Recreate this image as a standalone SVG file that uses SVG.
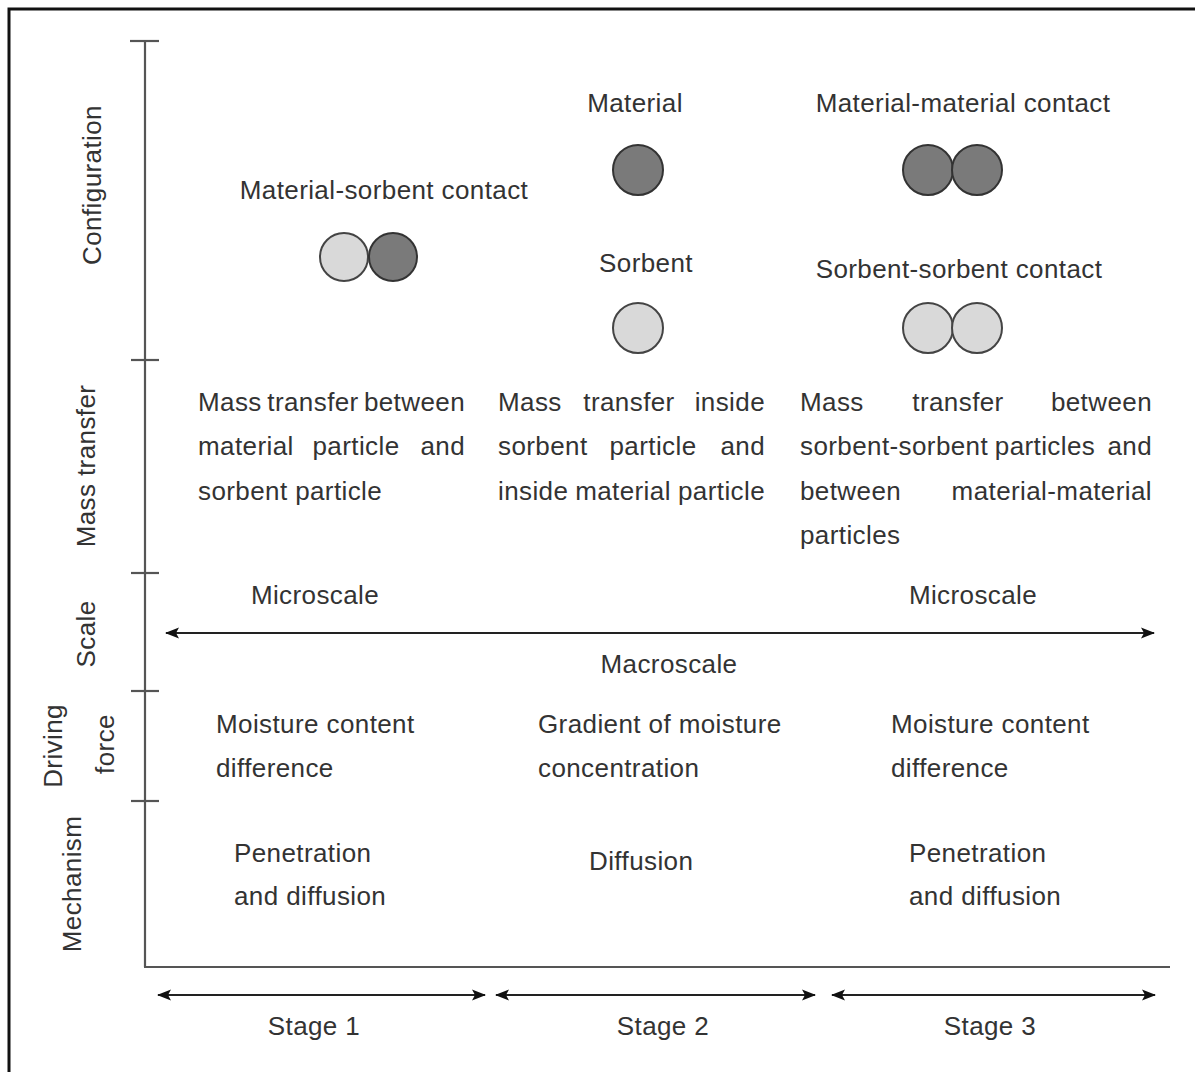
<svg xmlns="http://www.w3.org/2000/svg" width="1195" height="1072" viewBox="0 0 1195 1072">
<style>
text{font-family:"Liberation Sans",Arial,sans-serif;font-size:26px;fill:#333;letter-spacing:0.4px}
.m{text-anchor:middle}
.e{text-anchor:end}
.ax{stroke:#555;stroke-width:2.2;fill:none}
.ar{stroke:#222;stroke-width:2;fill:none;marker-start:url(#ah);marker-end:url(#ah)}
.lt{fill:#d9d9d9;stroke:#444;stroke-width:2}
.dk{fill:#7a7a7a;stroke:#333;stroke-width:2}
</style>
<defs>
<marker id="ah" viewBox="0 0 14 12" refX="13" refY="6" markerWidth="14" markerHeight="12" markerUnits="userSpaceOnUse" orient="auto-start-reverse">
<path d="M0,0.5 L14,6 L0,11.5 L3,6 Z" fill="#111"/>
</marker>
</defs>
<rect width="1195" height="1072" fill="#fff"/>
<rect x="9" y="9" width="1200" height="1100" fill="none" stroke="#111" stroke-width="3"/>
<g id="axes">
<line class="ax" x1="145" y1="41" x2="145" y2="967"/>
<line class="ax" x1="144" y1="967" x2="1170" y2="967"/>
<line class="ax" x1="130" y1="41" x2="159" y2="41"/>
<line class="ax" x1="131" y1="360" x2="159" y2="360"/>
<line class="ax" x1="131" y1="573" x2="159" y2="573"/>
<line class="ax" x1="131" y1="691" x2="159" y2="691"/>
<line class="ax" x1="131" y1="801" x2="159" y2="801"/>
</g>
<g id="row-labels">
<text class="m" transform="translate(101,185) rotate(-90)">Configuration</text>
<text class="m" transform="translate(95,466) rotate(-90)">Mass transfer</text>
<text class="m" transform="translate(95,634) rotate(-90)">Scale</text>
<text class="m" transform="translate(62,746) rotate(-90)">Driving</text>
<text class="m" transform="translate(114,744) rotate(-90)">force</text>
<text class="m" transform="translate(81,884) rotate(-90)">Mechanism</text>
</g>
<g id="config-stage1">
<text class="m" x="384" y="199">Material-sorbent contact</text>
<circle class="lt" cx="344" cy="257" r="24"/>
<circle class="dk" cx="393" cy="257" r="24"/>
</g>
<g id="config-material">
<text class="m" x="635" y="112">Material</text>
<circle class="dk" cx="638" cy="170" r="25"/>
</g>
<g id="config-sorbent">
<text class="m" x="646" y="272">Sorbent</text>
<circle class="lt" cx="638" cy="328" r="25"/>
</g>
<g id="config-mm">
<text class="m" x="963" y="112">Material-material contact</text>
<circle class="dk" cx="928" cy="170" r="25"/>
<circle class="dk" cx="977" cy="170" r="25"/>
</g>
<g id="config-ss">
<text class="m" x="959" y="278">Sorbent-sorbent contact</text>
<circle class="lt" cx="928" cy="328" r="25"/>
<circle class="lt" cx="977" cy="328" r="25"/>
</g>
<g id="mass-transfer-1">
<text x="198" y="411">Mass</text><text class="m" x="313" y="411">transfer</text><text class="e" x="465" y="411">between</text>
<text x="198" y="455">material</text><text class="m" x="356" y="455">particle</text><text class="e" x="465" y="455">and</text>
<text x="198" y="500">sorbent particle</text>
</g>
<g id="mass-transfer-2">
<text x="498" y="411">Mass</text><text class="m" x="629" y="411">transfer</text><text class="e" x="765" y="411">inside</text>
<text x="498" y="455">sorbent</text><text class="m" x="653" y="455">particle</text><text class="e" x="765" y="455">and</text>
<text x="498" y="500">inside</text><text class="m" x="623" y="500">material</text><text class="e" x="765" y="500">particle</text>
</g>
<g id="mass-transfer-3">
<text x="800" y="411">Mass</text><text class="m" x="958" y="411">transfer</text><text class="e" x="1152" y="411">between</text>
<text x="800" y="455">sorbent-sorbent</text><text class="m" x="1045" y="455">particles</text><text class="e" x="1152" y="455">and</text>
<text x="800" y="500">between</text><text class="e" x="1152" y="500">material-material</text>
<text x="800" y="544">particles</text>
</g>
<g id="scale">
<text class="m" x="315" y="604">Microscale</text>
<text class="m" x="973" y="604">Microscale</text>
<text class="m" x="669" y="673">Macroscale</text>
</g>
<g id="driving-force">
<text x="216" y="733">Moisture content</text>
<text x="216" y="777">difference</text>
<text x="538" y="733">Gradient of moisture</text>
<text x="538" y="777">concentration</text>
<text x="891" y="733">Moisture content</text>
<text x="891" y="777">difference</text>
</g>
<g id="mechanism">
<text x="234" y="862">Penetration</text>
<text x="234" y="905">and diffusion</text>
<text x="589" y="870">Diffusion</text>
<text x="909" y="862">Penetration</text>
<text x="909" y="905">and diffusion</text>
</g>
<g id="connectors">
<line class="ar" x1="166" y1="633" x2="1154" y2="633"/>
<line class="ar" x1="158" y1="995" x2="485" y2="995"/>
<line class="ar" x1="496" y1="995" x2="815" y2="995"/>
<line class="ar" x1="832" y1="995" x2="1155" y2="995"/>
</g>
<g id="stages">
<text class="m" x="314" y="1035">Stage 1</text>
<text class="m" x="663" y="1035">Stage 2</text>
<text class="m" x="990" y="1035">Stage 3</text>
</g>
</svg>
